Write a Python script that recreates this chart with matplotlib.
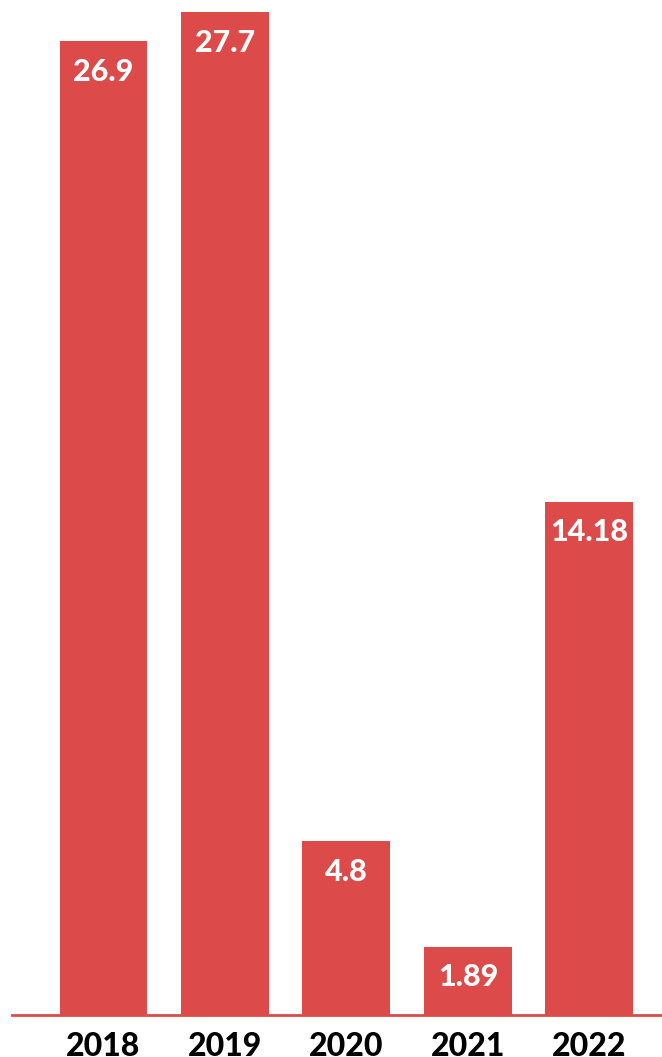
import matplotlib
matplotlib.use("Agg")
import matplotlib.pyplot as plt

years = ["2018", "2019", "2020", "2021", "2022"]
values = [26.9, 27.7, 4.8, 1.89, 14.18]
labels = ["26.9", "27.7", "4.8", "1.89", "14.18"]

red = "#dc4a4a"

fig = plt.figure(figsize=(6.62, 10.57), dpi=100)
ax = fig.add_axes([12 / 662, 42 / 1057, 650 / 662, 1015 / 1057])

x = list(range(len(years)))
bars = ax.bar(x, values, width=0.724, color=red)
ax.set_xlim(-0.753, 4.597)
ax.set_ylim(0, 28.04)

for b, lab in zip(bars, labels):
    ax.annotate(lab, (b.get_x() + b.get_width() / 2, b.get_height()),
                xytext=(0, -12), textcoords="offset points",
                ha="center", va="top", color="white",
                fontsize=22, fontweight="black", family="Lato")

ax.axhline(0, color=red, lw=2, clip_on=False)
for s in ax.spines.values():
    s.set_visible(False)
ax.set_yticks([])
ax.set_xticks(x)
ax.set_xticklabels(years, fontsize=23, fontweight="black", family="Lato")
ax.tick_params(axis="x", length=0, pad=12)

fig.savefig("out.png", dpi=100)
